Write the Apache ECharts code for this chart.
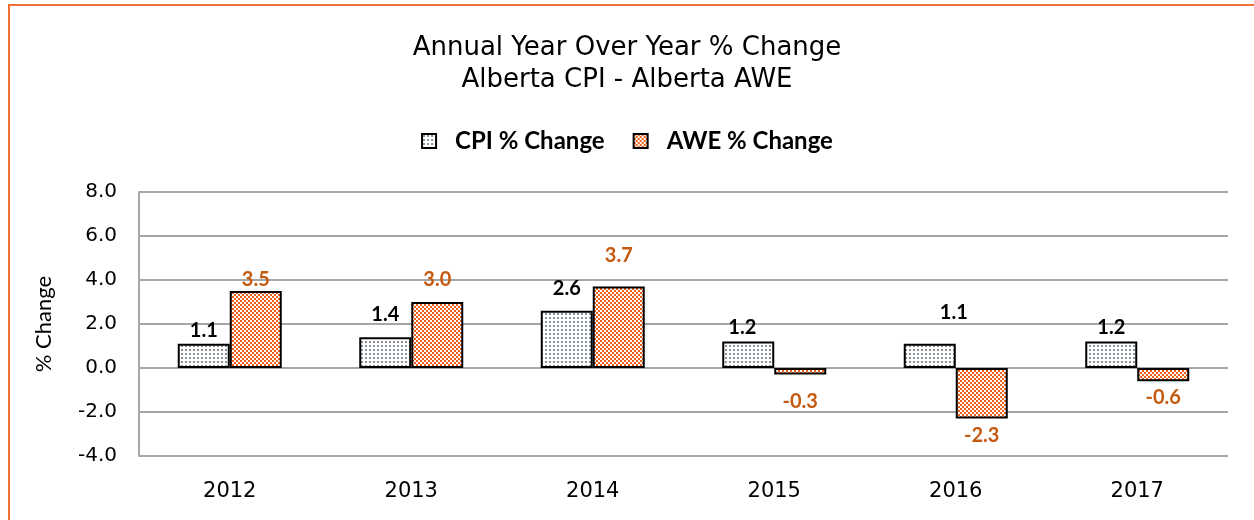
<!DOCTYPE html>
<html>
<head>
<meta charset="utf-8">
<script src="https://cdn.jsdelivr.net/npm/echarts@6/dist/echarts.min.js"></script>
<style>
html, body { margin: 0; padding: 0; background: #fff; }
#main { width: 1254px; height: 520px; }
</style>
</head>
<body>
<div id="main"></div>
<script>
// categories and values
var years = ['2012', '2013', '2014', '2015', '2016', '2017'];
var cpiChange = [1.1, 1.4, 2.6, 1.2, 1.1, 1.2];
var aweChange = [3.5, 3.0, 3.7, -0.3, -2.3, -0.6];
var yTicks = { min: -4, max: 8, step: 2 };

//fill patterns like the excel ones
function makePattern(draw) {
	var c = document.createElement('canvas');
	c.width = 4;
	c.height = 4;
	var ctx = c.getContext('2d');
	ctx.fillStyle = '#fff';
	ctx.fillRect(0, 0, 4, 4);
	draw(ctx);
	return { image: c, repeat: 'repeat' };
}
var dotFill = makePattern(function(ctx) {
	ctx.fillStyle = '#8a929a';
	ctx.fillRect(1, 1, 2, 2);
});
var checkFill = makePattern(function(ctx) {
	ctx.fillStyle = '#ee5e14';
	ctx.fillRect(0, 0, 2, 2);
	ctx.fillRect(2, 2, 2, 2);
});

// label lift above / below the bar end (manual excel placement)
var cpiLift = [3, 13, 12, 4, 21, 4];
var aweLift = [1, 12, 21, 17, 7, 6];
var cpiShift = [0, 0, 0, -6, 24, 0];

function labelled(values, lift, shift) {
	return values.map(function(v, i) {
		return {
			value: v,
			label: {
				distance: lift[i],
				offset: [shift ? shift[i] : 0, 0]
			}
		};
	});
}

var chart = echarts.init(document.getElementById('main'));
chart.setOption({
	animation: false,
	graphic: [{
		type: 'rect',
		shape: { x: 9, y: 5, width: 1400, height: 700 },
		style: { fill: 'none', stroke: '#f07030', lineWidth: 2 },
		silent: true
	}],
	title: {
		text: 'Annual Year Over Year % Change\nAlberta CPI - Alberta AWE',
		left: 'center',
		top: 27,
		textStyle: {
			fontFamily: 'DejaVu Sans',
			fontWeight: 'normal',
			fontSize: 26,
			lineHeight: 32,
			color: '#000'
		}
	},
	legend: {
		top: 124,
		left: 'center',
		icon: 'rect',
		itemWidth: 14,
		itemHeight: 14,
		itemGap: 28,
		itemStyle: { borderColor: '#000', borderWidth: 2 },
		textStyle: {
			fontFamily: 'Lato',
			fontWeight: 'bold',
			fontSize: 24,
			color: '#000',
			padding: [0, 0, 0, 14]
		},
		data: ['CPI % Change', 'AWE % Change']
	},
	grid: {
		left: 139,
		right: 26,
		top: 192,
		bottom: 64
	},
	xAxis: {
		type: 'category',
		data: years,
		axisLine: { show: false, onZero: false },
		axisTick: { show: false },
		axisLabel: {
			margin: 25,
			fontFamily: 'DejaVu Sans',
			fontSize: 21,
			color: '#000'
		}
	},
	yAxis: {
		type: 'value',
		min: yTicks.min,
		max: yTicks.max,
		interval: yTicks.step,
		name: '% Change',
		nameLocation: 'middle',
		nameGap: 84,
		nameTextStyle: {
			fontFamily: 'Lato',
			fontSize: 22,
			color: '#000'
		},
		axisLine: { show: true, lineStyle: { color: '#a6a6a6', width: 2 } },
		axisTick: { show: false },
		axisLabel: {
			margin: 22,
			fontFamily: 'DejaVu Sans',
			fontSize: 20,
			color: '#000',
			formatter: function(v) {
				return v.toFixed(1);
			}
		},
		splitLine: { lineStyle: { color: '#a6a6a6', width: 2 } }
	},
	series: [{
			name: 'CPI % Change',
			type: 'bar',
			barWidth: 52,
			barGap: 0,
			itemStyle: { color: dotFill, borderColor: '#000', borderWidth: 2 },
			label: {
				show: true,
				position: 'outside',
				fontFamily: 'Lato',
				fontWeight: 'bold',
				fontSize: 20,
				color: '#000',
				formatter: function(d) {
					return d.value.toFixed(1);
				}
			},
			data: labelled(cpiChange, cpiLift, cpiShift)
		},
		{
			name: 'AWE % Change',
			type: 'bar',
			barWidth: 52,
			barGap: 0,
			itemStyle: { color: checkFill, borderColor: '#000', borderWidth: 2 },
			label: {
				show: true,
				position: 'outside',
				fontFamily: 'Lato',
				fontWeight: 'bold',
				fontSize: 20,
				color: '#c55a11',
				formatter: function(d) {
					return d.value.toFixed(1);
				}
			},
			data: labelled(aweChange, aweLift)
		}
	]
});
</script>
</body>
</html>
